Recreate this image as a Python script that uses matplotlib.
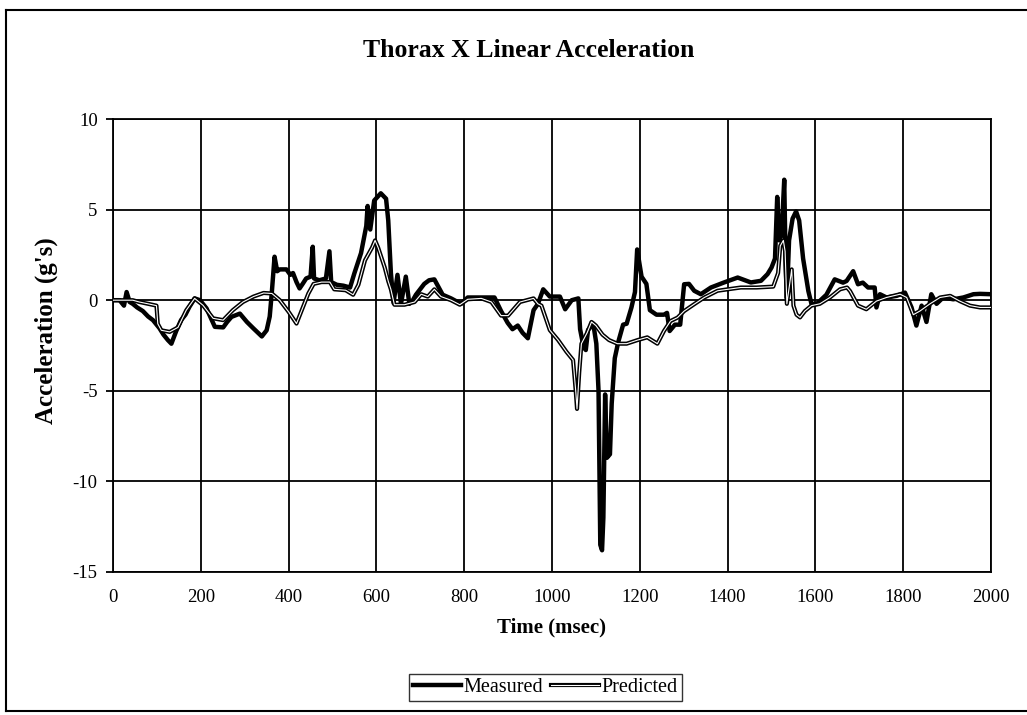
import numpy as np
import matplotlib
matplotlib.use("Agg")
import matplotlib.pyplot as plt
import matplotlib.patheffects as pe
from matplotlib.lines import Line2D

plt.rcParams['font.family'] = ['Liberation Serif', 'DejaVu Serif']
plt.rcParams['axes.unicode_minus'] = False

# measured curve (msec, g's)
meas_t = [0, 15, 25, 31, 38, 45, 55, 68, 80, 91, 106, 115, 125, 133, 144, 155, 165, 174, 186, 198,
          213, 225, 232, 251, 260, 270, 289, 305, 320, 339, 350, 357, 362, 366, 368, 374, 380, 395,
          404, 410, 418, 425, 432, 440, 450, 455, 458, 470, 485, 493, 497, 510, 525, 540, 550, 565,
          577, 580, 586, 595, 610, 622, 627, 633, 639, 648, 656, 667, 675, 683, 690, 709, 720, 732,
          751, 770, 793, 808, 839, 869, 884, 899, 910, 922, 933, 945, 958, 968, 980, 995, 1018,
          1030, 1045, 1060, 1064, 1072, 1077, 1082, 1094, 1101, 1106, 1110, 1114, 1117, 1121, 1125,
          1132, 1136, 1143, 1151, 1162, 1170, 1181, 1189, 1194, 1204, 1215, 1223, 1238, 1255, 1262,
          1268, 1280, 1292, 1301, 1312, 1324, 1339, 1362, 1392, 1423, 1453, 1476, 1491, 1500, 1508,
          1513, 1518, 1523, 1529, 1532, 1535, 1540, 1548, 1556, 1563, 1572, 1584, 1591, 1603, 1625,
          1644, 1663, 1671, 1686, 1697, 1708, 1720, 1735, 1739, 1747, 1762, 1785, 1804, 1819, 1830,
          1842, 1853, 1864, 1876, 1891, 1914, 1937, 1960, 1975, 2000]
meas_g = [0.0, 0.0, -0.3, 0.45, -0.1, -0.2, -0.4, -0.6, -0.9, -1.1, -1.55, -1.9, -2.2, -2.4, -1.7,
          -1.1, -0.8, -0.37, 0.1, 0.0, -0.45, -1.1, -1.47, -1.5, -1.2, -0.92, -0.74, -1.2, -1.56,
          -2.0, -1.66, -0.9, 0.5, 1.8, 2.4, 1.6, 1.7, 1.7, 1.4, 1.5, 1.0, 0.65, 0.9, 1.2, 1.3, 2.95,
          1.2, 1.1, 1.2, 2.7, 1.0, 0.85, 0.8, 0.7, 1.5, 2.6, 4.1, 5.2, 3.9, 5.5, 5.9, 5.6, 4.4, 1.5,
          -0.15, 1.4, -0.2, 1.3, -0.2, 0.0, 0.3, 0.9, 1.1, 1.15, 0.3, 0.1, -0.2, 0.15, 0.15, 0.15,
          -0.6, -1.25, -1.6, -1.4, -1.8, -2.1, -0.55, -0.2, 0.6, 0.2, 0.2, -0.5, 0.0, 0.1, -1.6,
          -2.6, -2.75, -1.65, -1.3, -2.4, -5.0, -13.5, -13.8, -12.0, -5.2, -8.7, -8.5,
          -5.7, -3.2, -2.3, -1.35, -1.3, -0.4, 0.45, 2.8, 1.3, 0.9, -0.55, -0.8, -0.8, -0.7, -1.7,
          -1.35, -1.35, 0.88, 0.9, 0.52, 0.33, 0.7, 0.98, 1.25, 0.98, 1.07, 1.44, 1.8, 2.3, 5.7,
          3.3, 3.6, 6.65, 2.3, 0.1, 3.3, 4.5, 4.9, 4.4, 2.3, 0.5, -0.2, -0.2, 0.3, 1.15, 0.97,
          1.06, 1.6, 0.88, 0.97, 0.7, 0.7, -0.4, 0.33, 0.15, 0.24, 0.42, -0.4, -1.4, -0.3, -1.2,
          0.33, -0.2, 0.15, 0.05, 0.15, 0.33, 0.35, 0.33]

# predicted curve
pred_t = [0, 20, 45, 60, 80, 99, 102, 110, 129, 148, 167, 186, 205, 228, 251, 273, 296, 320, 343,
          362, 380, 400, 418, 430, 445, 457, 475, 494, 504, 530, 547, 559, 574, 590, 597, 604, 619,
          627, 633, 641, 664, 687, 702, 717, 732, 747, 770, 790, 808, 839, 862, 884, 900, 927, 958,
          968, 976, 995, 1014, 1033, 1048, 1054, 1057, 1062, 1067, 1080, 1090, 1100, 1115, 1130,
          1149, 1170, 1195, 1217, 1240, 1255, 1270, 1286, 1301, 1324, 1347, 1377, 1400, 1430, 1466,
          1504, 1515, 1520, 1527, 1531, 1535, 1546, 1550, 1557, 1565, 1576, 1591, 1610, 1633, 1656,
          1672, 1679, 1697, 1716, 1739, 1762, 1793, 1808, 1823, 1838, 1861, 1884, 1907, 1929, 1952,
          1975, 2000]
pred_g = [0.0, 0.0, 0.0, -0.1, -0.2, -0.3, -1.3, -1.66, -1.75, -1.5, -0.55, 0.1, -0.28, -1.0, -1.1,
          -0.55, -0.1, 0.2, 0.4, 0.37, 0.0, -0.64, -1.29, -0.55, 0.37, 0.9, 1.0, 1.0, 0.6, 0.55, 0.3,
          0.85, 2.2, 2.9, 3.3, 2.9, 1.8, 1.05, 0.6, -0.25, -0.25, -0.1, 0.33, 0.2, 0.6, 0.2, 0.0,
          -0.25, 0.05, 0.1, -0.1, -0.85, -0.85, -0.1, 0.1, -0.2, -0.3, -1.65, -2.2, -2.85, -3.3,
          -5.0, -6.0, -4.0, -2.4, -1.8, -1.2, -1.4, -1.9, -2.2, -2.4, -2.4, -2.2, -2.05, -2.4, -1.7,
          -1.15, -0.96, -0.6, -0.22, 0.15, 0.52, 0.6, 0.7, 0.7, 0.75, 1.5, 3.0, 3.3, 2.7, -0.2, 1.7,
          -0.3, -0.8, -0.95, -0.6, -0.3, -0.2, 0.15, 0.6, 0.7, 0.5, -0.3, -0.5, -0.05, 0.15, 0.33,
          0.15, -0.8, -0.6, -0.2, 0.15, 0.24, -0.05, -0.3, -0.4, -0.4]

x_ticks = list(range(0, 2001, 200))
y_ticks = [-15, -10, -5, 0, 5, 10]

fig = plt.figure(figsize=(10.27, 7.15), dpi=100)
ax = fig.add_axes([113 / 1027, 1 - 572 / 715, 878 / 1027, 453 / 715])

ax.plot(meas_t, meas_g, color='black', lw=3.2, solid_joinstyle='round', label='Measured', zorder=3)
ax.plot(pred_t, pred_g, color='white', lw=0.8, label='Predicted', zorder=4,
        path_effects=[pe.Stroke(linewidth=3.0, foreground='black'), pe.Normal()])

ax.set_xlim(0, 2000)
ax.set_ylim(-15, 10)
ax.set_xticks(x_ticks)
ax.set_yticks(y_ticks)
ax.grid(True, color='black', lw=1.3)
ax.set_axisbelow(True)
for s in ax.spines.values():
    s.set_linewidth(1.3)
ax.tick_params(axis='y', direction='out', length=5, width=1.3, pad=6, labelsize=13.5)
ax.tick_params(axis='x', length=0, pad=12, labelsize=13.5)

fig.text(0.515, 0.93, 'Thorax X Linear Acceleration', ha='center', va='center',
         fontsize=18.5, fontweight='bold')
fig.text(0.045, 0.537, "Acceleration (g's)", ha='center', va='center', rotation=90,
         fontsize=18, fontweight='bold')
fig.text(0.537, 0.123, 'Time (msec)', ha='center', va='center', fontsize=15, fontweight='bold')

leg = fig.legend(loc='center', bbox_to_anchor=(0.531, 0.039), ncol=2, fontsize=14.5,
                 frameon=True, fancybox=False, edgecolor='black', handlelength=2.4,
                 handletextpad=0.1, columnspacing=0.4, borderpad=0.2, borderaxespad=0)
leg.get_frame().set_linewidth(1.0)

# outer border of the chart
fig.lines.extend([
    Line2D([6 / 1027, 6 / 1027], [1 - 10 / 715, 1 - 711 / 715], transform=fig.transFigure, color='black', lw=1.5),
    Line2D([6 / 1027, 1.0], [1 - 10 / 715, 1 - 10 / 715], transform=fig.transFigure, color='black', lw=1.5),
    Line2D([6 / 1027, 1.0], [1 - 711 / 715, 1 - 711 / 715], transform=fig.transFigure, color='black', lw=1.5),
])

fig.savefig('out.png', dpi=100)
